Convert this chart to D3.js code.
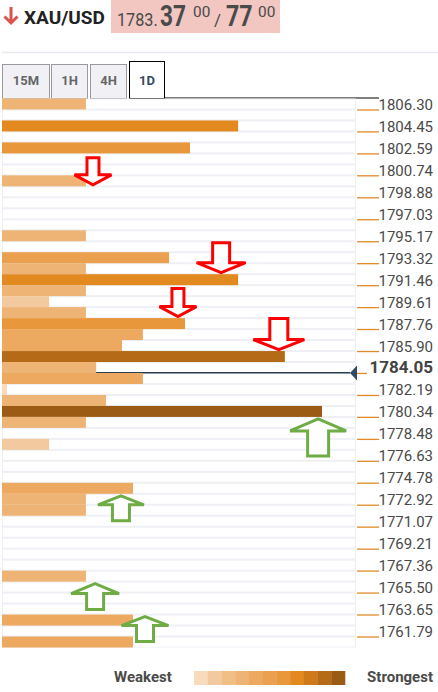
<!DOCTYPE html>
<html lang="en">
<meta charset="utf-8">
<style>
body {
  margin: 0;
  background: #fff;
  font-family: Roboto, "Noto Sans", sans-serif;
}
</style>
<body>
<script src="https://d3js.org/d3.v7.min.js"></script>
<script>
var w = 438;
var h = 692;

// colour steps of the strength legend, weakest -> strongest
var levelColors = ["#f7dbbb", "#f3caa0", "#f0bf86", "#eeb475", "#eca95f", "#eaa04e",
                   "#e8973a", "#e28a20", "#cf7a1a", "#b56a18", "#9c5b14"];

// one value per price row, top to bottom (0 = nothing there)
var rowStrength = [23.7, 0, 66.7, 0, 53.1, 0, 0, 23.7, 0, 0,
                   0, 0, 23.7, 0, 47.2, 23.7, 66.7, 23.7, 13.3, 23.7,
                   51.7, 39.8, 33.9, 79.9, 26.6, 39.8, 1.4, 29.4, 90.4, 23.7,
                   0, 13.3, 0, 0, 0, 37.0, 23.7, 23.7, 0, 0,
                   0, 0, 0, 23.7, 0, 0, 0, 37.0, 0, 37.0];
// legend step (1..11) of each row
var rowLevel = [4, 0, 8, 0, 7, 0, 0, 4, 0, 0,
                0, 0, 4, 0, 6, 4, 8, 4, 2, 4,
                7, 5, 5, 10, 4, 5, 1, 4, 11, 4,
                0, 2, 0, 0, 0, 5, 4, 4, 0, 0,
                0, 0, 0, 4, 0, 0, 0, 5, 0, 5];

var tickPrices = [1806.30, 1804.45, 1802.59, 1800.74, 1798.88, 1797.03, 1795.17, 1793.32,
                  1791.46, 1789.61, 1787.76, 1785.90, 1784.05, 1782.19, 1780.34, 1778.48,
                  1776.63, 1774.78, 1772.92, 1771.07, 1769.21, 1767.36, 1765.50, 1763.65,
                  1761.79];
var currentPrice = 1784.05;

// resistance / support arrows: row they point at, strength position
var arrowsDown = [{row: 8, value: 25.7}, {row: 16, value: 61.9},
                  {row: 20, value: 49.7}, {row: 23, value: 78.2}];
var arrowsUp = [{row: 29, value: 89.3}, {row: 36, value: 33.6},
                {row: 44, value: 26.3}, {row: 47, value: 40.4}];

var tabs = ["15M", "1H", "4H", "1D"];
var activeTab = "1D";

var svg = d3.select("body").append("svg")
  .attr("width", w)
  .attr("height", h);

// ---- header
svg.append("path")
  .attr("d", "M11,7 L11,23 M4.5,16.5 L11,23 L17.5,16.5")
  .attr("fill", "none")
  .attr("stroke", "#d9534f")
  .attr("stroke-width", 3);

svg.append("text")
  .attr("x", 24).attr("y", 24)
  .attr("font-size", 19).attr("font-weight", "bold")
  .attr("fill", "#222")
  .text("XAU/USD");

svg.append("rect")
  .attr("x", 111).attr("y", 0)
  .attr("width", 169).attr("height", 33)
  .attr("fill", "#f2c6c1");

// quote pieces, squeezed horizontally like the site's condensed digits
var quote = [
  {t: "1783.", x: 117, y: 26, s: 18, b: false, sx: 0.9},
  {t: "37", x: 160, y: 26, s: 29, b: true, sx: 0.78},
  {t: "00", x: 193, y: 17, s: 14, b: false, sx: 1.1},
  {t: "/", x: 214, y: 26, s: 17, b: false, sx: 1},
  {t: "77", x: 226, y: 26, s: 29, b: true, sx: 0.8},
  {t: "00", x: 258, y: 17, s: 14, b: false, sx: 1.1}
];
svg.selectAll(".quote")
  .data(quote)
  .enter().append("text")
  .attr("class", "quote")
  .attr("transform", function(d) { return "translate(" + d.x + "," + d.y + ") scale(" + d.sx + ",1)"; })
  .attr("font-size", function(d) { return d.s; })
  .attr("font-weight", function(d) { return d.b ? "bold" : "normal"; })
  .attr("fill", "#4a4a4a")
  .text(function(d) { return d.t; });

svg.append("line")
  .attr("x1", 2).attr("x2", w)
  .attr("y1", 52.5).attr("y2", 52.5)
  .attr("stroke", "#e8e9ee")
  .attr("stroke-width", 1.5);

// ---- tabs
var tabW = [47, 36, 36, 35];
var tabX = [2, 51, 90, 129];
var tabG = svg.selectAll(".tab")
  .data(tabs)
  .enter().append("g")
  .attr("class", "tab");

tabG.append("rect")
  .attr("x", function(d, i) { return tabX[i] + 0.5; })
  .attr("y", function(d) { return d === activeTab ? 61.5 : 64.5; })
  .attr("width", function(d, i) { return tabW[i]; })
  .attr("height", function(d) { return d === activeTab ? 37 : 34; })
  .attr("fill", function(d) { return d === activeTab ? "#fff" : "#f1f1f5"; })
  .attr("stroke", function(d) { return d === activeTab ? "#000" : "#9a9a9a"; })
  .attr("stroke-width", 1);

tabG.append("text")
  .attr("x", function(d, i) { return tabX[i] + tabW[i] / 2 + 0.5; })
  .attr("y", 85)
  .attr("text-anchor", "middle")
  .attr("font-size", 13).attr("font-weight", "bold")
  .attr("fill", function(d) { return d === activeTab ? "#34495e" : "#666"; })
  .text(function(d) { return d; });

svg.append("line")
  .attr("x1", 164).attr("x2", 379)
  .attr("y1", 98).attr("y2", 98)
  .attr("stroke", "#000")
  .attr("stroke-width", 1.2);

// ---- scales
var chartTop = 98.5, chartBottom = 647.5;
var yRow = d3.scaleBand()
  .domain(d3.range(rowStrength.length))
  .range([chartTop, chartBottom]);

var yPrice = d3.scaleLinear()
  .domain([tickPrices[0], tickPrices[tickPrices.length - 1]])
  .range([yRow(1), yRow(49)]);

var xScale = d3.scaleLinear()
  .domain([0, 100])
  .range([2, 356]);

var color = d3.scaleOrdinal()
  .domain(d3.range(1, 12))
  .range(levelColors);

// ---- rows background
svg.append("rect")
  .attr("x", 2).attr("y", chartTop)
  .attr("width", 354).attr("height", chartBottom - chartTop)
  .attr("fill", "#eef0f5");

svg.selectAll(".rowbg")
  .data(rowStrength)
  .enter().append("rect")
  .attr("class", "rowbg")
  .attr("x", 3)
  .attr("y", function(d, i) { return yRow(i) + 1; })
  .attr("width", 352)
  .attr("height", yRow.bandwidth() - 2)
  .attr("fill", "#fff");

// current price line (sits under the bars)
svg.append("line")
  .attr("x1", xScale(0)).attr("x2", 350)
  .attr("y1", yPrice(currentPrice) - 0.3).attr("y2", yPrice(currentPrice) - 0.3)
  .attr("stroke", "#2c3e50")
  .attr("stroke-width", 1.5);

// ---- bars
svg.selectAll(".bar")
  .data(rowStrength)
  .enter().append("rect")
  .attr("class", "bar")
  .attr("x", xScale(0))
  .attr("y", function(d, i) { return yRow(i); })
  .attr("width", function(d) { return xScale(d) - xScale(0); })
  .attr("height", yRow.bandwidth())
  .attr("fill", function(d, i) { return rowLevel[i] ? color(rowLevel[i]) : "none"; });

// ---- axis on the right
var axis = d3.axisRight(yPrice)
  .tickValues(tickPrices)
  .tickSize(22)
  .tickPadding(0)
  .tickFormat(d3.format(".2f"));

var axisG = svg.append("g")
  .attr("transform", "translate(357,0)")
  .call(axis);

axisG.select(".domain").remove();
axisG.selectAll("line")
  .attr("stroke", "#e08a2a")
  .attr("stroke-width", 1.3);
axisG.selectAll("text")
  .attr("dy", 0)
  .attr("x", 76)
  .attr("text-anchor", "end")
  .attr("font-family", "Roboto, sans-serif")
  .attr("font-size", 15)
  .attr("fill", "#4a4a4a");

var cur = axisG.selectAll(".tick").filter(function(d) { return d === currentPrice; });
cur.select("line").attr("x2", 10);
cur.select("text")
  .attr("font-weight", "bold")
  .attr("font-size", 17)
  .attr("fill", "#444");

svg.append("path")
  .attr("d", "M350," + yPrice(currentPrice) + " L357," + (yPrice(currentPrice) - 7.5) +
             " L357," + (yPrice(currentPrice) + 7.5) + "Z")
  .attr("fill", "#2f4a68");

// ---- arrows
var downSize = [[37, 27, 12, 10], [49, 30, 17, 10], [37, 28, 12, 10], [51, 31, 18, 10]];
var upSize = [[56, 37, 21, 12], [46, 25, 17, 9], [48, 26, 17, 10], [47, 25, 17, 9]];

function arrowPath(tx, ty, s, dir) {
  // dir 1: points down, -1: points up
  var W = s[0], H = s[1], S = s[2], Hh = s[3];
  var y0 = ty - dir * H, y1 = ty - dir * Hh;
  return "M" + (tx - S / 2) + "," + y0 +
    "L" + (tx + S / 2) + "," + y0 +
    "L" + (tx + S / 2) + "," + y1 +
    "L" + (tx + W / 2) + "," + y1 +
    "L" + tx + "," + ty +
    "L" + (tx - W / 2) + "," + y1 +
    "L" + (tx - S / 2) + "," + y1 + "Z";
}

svg.selectAll(".adown")
  .data(arrowsDown)
  .enter().append("path")
  .attr("class", "adown")
  .attr("d", function(d, i) { return arrowPath(xScale(d.value), yRow(d.row) - 1.5, downSize[i], 1); })
  .attr("fill", "#fff")
  .attr("stroke", "#ff0000")
  .attr("stroke-width", 3);

svg.selectAll(".aup")
  .data(arrowsUp)
  .enter().append("path")
  .attr("class", "aup")
  .attr("d", function(d, i) { return arrowPath(xScale(d.value), yRow(d.row) + 2, upSize[i], -1); })
  .attr("fill", "#fff")
  .attr("stroke", "#6fac46")
  .attr("stroke-width", 3);

// ---- legend
var legX = d3.scaleBand()
  .domain(d3.range(1, 12))
  .range([194, 345]);

svg.selectAll(".leg")
  .data(d3.range(1, 12))
  .enter().append("rect")
  .attr("class", "leg")
  .attr("x", function(d) { return legX(d); })
  .attr("y", 671)
  .attr("width", legX.bandwidth() + 0.3)
  .attr("height", 14)
  .attr("fill", function(d) { return color(d); });

svg.append("text")
  .attr("x", 114).attr("y", 682)
  .attr("font-size", 15).attr("font-weight", "bold")
  .attr("fill", "#4a4a4a")
  .text("Weakest");

svg.append("text")
  .attr("x", 433).attr("y", 682)
  .attr("text-anchor", "end")
  .attr("font-size", 15).attr("font-weight", "bold")
  .attr("fill", "#4a4a4a")
  .text("Strongest");
</script>
</body>
</html>
